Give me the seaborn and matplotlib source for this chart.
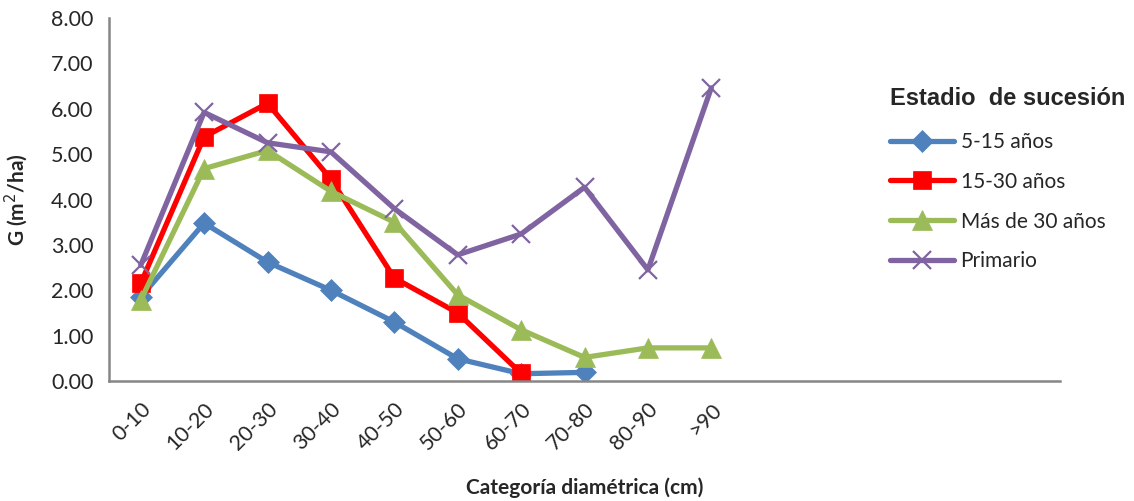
import numpy as np
import pandas as pd
import matplotlib
matplotlib.use("Agg")
import matplotlib.pyplot as plt
import seaborn as sns

# Diameter classes (cm); the category axis reserves 15 slots, only 10 are labelled
categorias = ["0-10", "10-20", "20-30", "30-40", "40-50",
              "50-60", "60-70", "70-80", "80-90", ">90"]
n_slots = 15

# Basal area G (m2/ha) by succession stage
g_5_15 = [1.85, 3.48, 2.62, 2.00, 1.30, 0.49, 0.16, 0.19]
g_15_30 = [2.15, 5.38, 6.12, 4.45, 2.27, 1.50, 0.17]
g_mas_30 = [1.78, 4.68, 5.08, 4.18, 3.50, 1.90, 1.13, 0.52, 0.73, 0.73]
g_primario = [2.55, 5.92, 5.25, 5.05, 3.80, 2.78, 3.24, 4.27, 2.45, 6.46]

series = {
    "5-15 años": g_5_15,
    "15-30 años": g_15_30,
    "Más de 30 años": g_mas_30,
    "Primario": g_primario,
}
colores = {"5-15 años": "#4F81BD", "15-30 años": "#FF0000",
           "Más de 30 años": "#9BBB59", "Primario": "#8064A2"}
marcadores = {"5-15 años": "D", "15-30 años": "s",
              "Más de 30 años": "^", "Primario": "x"}
tam_marcador = {"5-15 años": 11, "15-30 años": 13,
                "Más de 30 años": 14, "Primario": 13}

filas = []
for nombre, valores in series.items():
    for i, v in enumerate(valores):
        filas.append({"pos": i, "categoria": categorias[i], "G": v, "estadio": nombre})
df = pd.DataFrame(filas)

sns.set_style("white")
plt.rcParams["font.family"] = ["Lato", "DejaVu Sans"]

fig = plt.figure(figsize=(11.34, 5.01), dpi=100)
ax = fig.add_axes([109 / 1134, 1 - 381 / 501, (1060 - 109) / 1134, (381 - 18) / 501])

for nombre in series:
    sub = df[df["estadio"] == nombre]
    sns.lineplot(data=sub, x="pos", y="G", ax=ax, color=colores[nombre],
                 linewidth=3.8, marker=marcadores[nombre],
                 markersize=tam_marcador[nombre],
                 markeredgewidth=1.6 if marcadores[nombre] == "x" else 0.5,
                 markeredgecolor=colores[nombre], label=nombre)

ax.set_xlim(-0.5, n_slots - 0.5)
ax.set_ylim(0, 8)
ax.set_yticks(np.arange(0, 8.01, 1.0))
ax.set_yticklabels([f"{v:.2f}" for v in np.arange(0, 8.01, 1.0)], fontsize=15.5)
ax.set_xticks(range(len(categorias)))
ax.set_xticklabels(categorias, rotation=45, ha="right", rotation_mode="anchor",
                   fontsize=15.5)
ax.tick_params(axis="x", length=0, pad=13)
ax.tick_params(axis="y", length=5, width=1.5, color="#868686", direction="out", pad=6)

for s in ["top", "right"]:
    ax.spines[s].set_visible(False)
for s in ["left", "bottom"]:
    ax.spines[s].set_color("#868686")
    ax.spines[s].set_linewidth(1.8)

ax.set_xlabel("Categoría diamétrica (cm)", fontsize=15, fontweight="bold")
ax.set_ylabel("G (m$^2$/ha)", fontsize=15, fontweight="bold")
ax.xaxis.set_label_coords((585 - 109) / (1060 - 109), -(477 - 381) / 363)
ax.yaxis.set_label_coords(-(109 - 30) / (1060 - 109), 0.5)

leg = ax.legend(title="Estadio  de sucesión", loc="upper left",
                bbox_to_anchor=(871 / 1134, 1 - 68 / 501), bbox_transform=fig.transFigure,
                frameon=False, fontsize=15, handlelength=3.1, handletextpad=0.3,
                labelspacing=0.95, alignment="left")
leg.get_title().set_fontfamily("Liberation Sans")
leg.get_title().set_fontweight("bold")
leg.get_title().set_fontsize(17)
leg._legend_box.sep = 16

fig.savefig("out.png", dpi=100)
